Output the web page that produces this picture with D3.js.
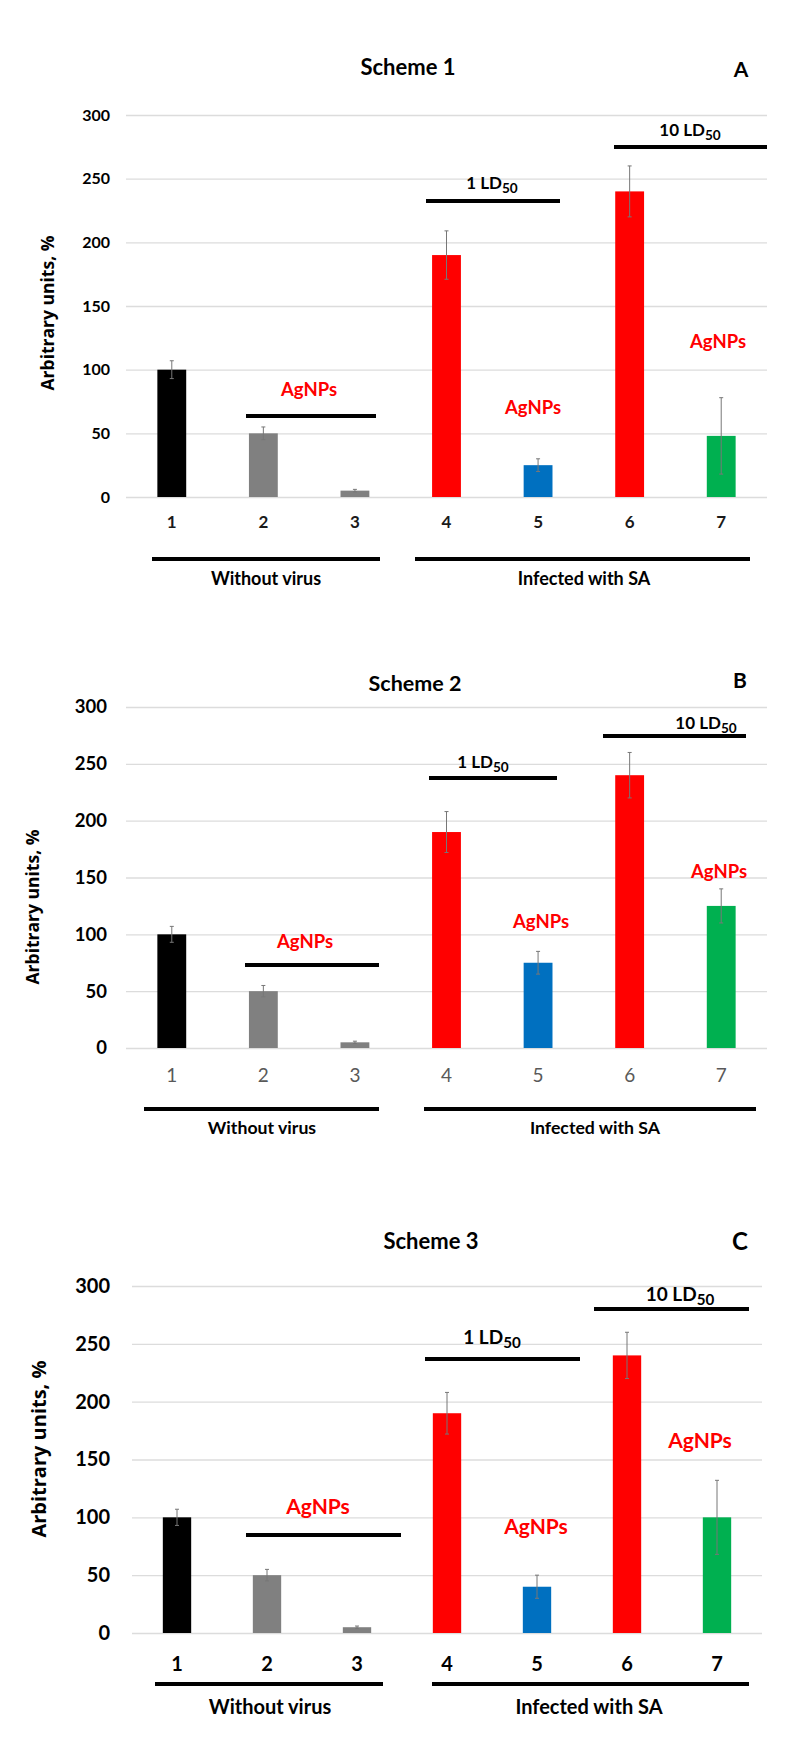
<!DOCTYPE html>
<html><head><meta charset="utf-8">
<script src="https://cdn.jsdelivr.net/npm/d3@7"></script>
<style>body{margin:0;background:#fff} svg{display:block}</style>
</head><body><svg id="c" width="791" height="1738"></svg>
<script>
// ---------- data ----------
const categories = ["1","2","3","4","5","6","7"];
const yTicks = [0,50,100,150,200,250,300];
const valuesA = [100,50,5,190,25,240,48];
const errorsA = [7,5,1,19,5,20,30];
const valuesB = [100,50,5,190,75,240,125];
const errorsB = [7,5,1,18,10,20,15];
const valuesC = [100,50,5,190,40,240,100];
const errorsC = [7,5,1,18,10,20,32];
const panelTitles = ["Scheme 1","Scheme 2","Scheme 3"];
const panelLetters = ["A","B","C"];
const groupLabels = ["Without virus","Infected with SA"];
const yAxisTitle = "Arbitrary units, %";
const treatLabel = "AgNPs";
const doseLabels = ["1 LD","10 LD"];
const doseSub = "50";
// ---------- styles ----------
const barColors = ["#000000","#808080","#808080","#ff0000","#0070c0","#ff0000","#00b050"];
const FONT = "Lato,'DejaVu Sans Condensed',sans-serif";
const FONT2 = "'Open Sans','DejaVu Sans',sans-serif";

const layouts = [
 {values:valuesA, errors:errorsA, top:115, bottom:497, left:126, right:767,
  title:[408,67], titleFs:22, letter:[741,70], letterFs:21, tickX:110, tickFs:16,
  xLabY:522, xLabFs:17, xLabColor:"#1a1a1a", xLabW:"bold",
  yTitle:[48,313], yTitleFs:17.5, annFs:17, agFs:18.5,
  ld1:{text:[492,183], line:[426,560,201]}, ld10:{text:[690,130], line:[614,767,147]},
  ag1:{text:[309,390], line:[246,376,416]}, ag5:[533,408], ag7:[718,342],
  br:{y:559, w:[152,380], i:[415,750], ty:579, wx:266, ix:584, fs:18}},
 {values:valuesB, errors:errorsB, top:707, bottom:1048, left:126, right:767,
  title:[415,683], titleFs:21.5, letter:[740,681], letterFs:21, tickX:107, tickFs:18.5,
  xLabY:1075, xLabFs:19, xLabColor:"#595959", xLabW:"normal",
  yTitle:[33,907], yTitleFs:17.5, annFs:17, agFs:18.5,
  ld1:{text:[483,762], line:[429,557,778]}, ld10:{text:[706,723], line:[603,746,736]},
  ag1:{text:[305,942], line:[245,379,965]}, ag5:[541,922], ag7:[719,872],
  br:{y:1109, w:[144,379], i:[424,756], ty:1128, wx:262, ix:595, fs:17.7}},
 {values:valuesC, errors:errorsC, top:1286, bottom:1633, left:132, right:762,
  title:[431,1241], titleFs:22, letter:[740,1242], letterFs:24, tickX:110, tickFs:20,
  xLabY:1664, xLabFs:20, xLabColor:"#000000", xLabW:"bold",
  yTitle:[39,1449], yTitleFs:20, annFs:19, agFs:21,
  ld1:{text:[492,1337], line:[425,580,1359]}, ld10:{text:[680,1294], line:[594,749,1309]},
  ag1:{text:[318,1507], line:[246,401,1535]}, ag5:[536,1527], ag7:[700,1441],
  br:{y:1684, w:[155,383], i:[432,749], ty:1707, wx:270, ix:589, fs:20}}
];

const svg = d3.select("#c");

function txt(g, x, y, s, fs, opts={}) {
  return g.append("text").attr("x",x).attr("y",y).attr("dy","0.35em")
    .attr("text-anchor",opts.anchor||"middle")
    .attr("font-family",opts.family||FONT).attr("font-weight",opts.weight||"bold")
    .attr("font-size",fs).attr("fill",opts.fill||"#000").text(s);
}
function hline(g, x1, x2, y, w=4) {
  g.append("line").attr("x1",x1).attr("x2",x2).attr("y1",y).attr("y2",y)
   .attr("stroke","#000").attr("stroke-width",w);
}
function dose(g, pos, label, fs) {
  const t = g.append("text").attr("x",pos.text[0]).attr("y",pos.text[1]).attr("dy","0.35em")
    .attr("text-anchor","middle").attr("font-family",FONT).attr("font-weight","bold")
    .attr("font-size",fs);
  t.append("tspan").text(label);
  t.append("tspan").attr("font-size",fs*0.8).attr("dy","0.3em").text(doseSub);
  hline(g, pos.line[0], pos.line[1], pos.line[2]);
}

layouts.forEach((L,pi)=>{
  const g = svg.append("g");
  const x = d3.scaleBand().domain(categories).range([L.left,L.right]).paddingInner(0.685).paddingOuter(0.3425);
  const y = d3.scaleLinear().domain([0,300]).range([L.bottom,L.top]);

  // gridlines + y tick labels
  const yAx = d3.axisLeft(y).tickValues(yTicks).tickSize(-(L.right-L.left)).tickPadding(L.left-L.tickX);
  const ag = g.append("g").attr("transform",`translate(${L.left},0)`).call(yAx);
  ag.select(".domain").remove();
  ag.selectAll(".tick line").attr("stroke","#dcdcdc").attr("stroke-width",1.3);
  ag.selectAll(".tick text").attr("font-family",FONT).attr("font-weight","bold")
    .attr("font-size",L.tickFs).attr("fill","#000");

  // x labels
  const xAx = d3.axisBottom(x).tickSize(0).tickPadding(0);
  const xg = g.append("g").attr("transform",`translate(0,${L.xLabY})`).call(xAx);
  xg.select(".domain").remove();
  xg.selectAll(".tick text").attr("dy","0.35em").attr("font-family",FONT).attr("font-weight",L.xLabW)
    .attr("font-size",L.xLabFs).attr("fill",L.xLabColor);

  // bars
  g.selectAll("rect.bar").data(L.values).enter().append("rect").attr("class","bar")
    .attr("x",(d,i)=>x(categories[i])).attr("width",x.bandwidth())
    .attr("y",d=>y(d)).attr("height",d=>y(0)-y(d))
    .attr("fill",(d,i)=>barColors[i]);

  // error bars
  const cx = (i)=>x(categories[i])+x.bandwidth()/2;
  const eb = g.selectAll("g.err").data(L.values).enter().append("g").attr("class","err")
    .attr("stroke","#777").attr("stroke-width",1);
  eb.append("line").attr("x1",(d,i)=>cx(i)).attr("x2",(d,i)=>cx(i))
    .attr("y1",(d,i)=>y(d-L.errors[i])).attr("y2",(d,i)=>y(d+L.errors[i]));
  [1,-1].forEach(s=>{
    eb.append("line").attr("x1",(d,i)=>cx(i)-2).attr("x2",(d,i)=>cx(i)+2)
      .attr("y1",(d,i)=>y(d+s*L.errors[i])).attr("y2",(d,i)=>y(d+s*L.errors[i]));
  });

  // titles
  txt(g, L.title[0], L.title[1], panelTitles[pi], L.titleFs);
  txt(g, L.letter[0], L.letter[1], panelLetters[pi], L.letterFs);
  g.append("text").attr("transform",`translate(${L.yTitle[0]},${L.yTitle[1]}) rotate(-90)`)
    .attr("dy","0.35em").attr("text-anchor","middle").attr("font-family",FONT2).attr("font-weight","bold")
    .attr("font-size",L.yTitleFs).text(yAxisTitle);

  // annotations
  dose(g, L.ld1, doseLabels[0], L.annFs);
  dose(g, L.ld10, doseLabels[1], L.annFs);
  txt(g, L.ag1.text[0], L.ag1.text[1], treatLabel, L.agFs, {fill:"#ff0000"});
  hline(g, L.ag1.line[0], L.ag1.line[1], L.ag1.line[2]);
  txt(g, L.ag5[0], L.ag5[1], treatLabel, L.agFs, {fill:"#ff0000"});
  txt(g, L.ag7[0], L.ag7[1], treatLabel, L.agFs, {fill:"#ff0000"});

  // group brackets
  hline(g, L.br.w[0], L.br.w[1], L.br.y);
  hline(g, L.br.i[0], L.br.i[1], L.br.y);
  txt(g, L.br.wx, L.br.ty, groupLabels[0], L.br.fs);
  txt(g, L.br.ix, L.br.ty, groupLabels[1], L.br.fs);
});
</script></body></html>
